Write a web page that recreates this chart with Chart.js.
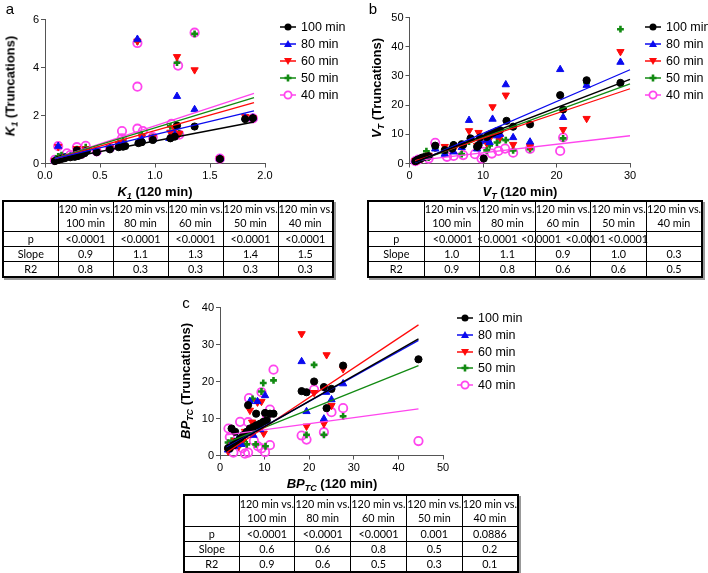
<!DOCTYPE html>
<html>
<head>
<meta charset="utf-8">
<script src="https://cdn.jsdelivr.net/npm/chart.js@4.4.1/dist/chart.umd.min.js"></script>
<style>
  body { margin: 0; background: #fff; }
  #page { position: relative; width: 708px; height: 573px; overflow: hidden; font-family: "Liberation Sans", Arial, sans-serif; color: #000; }
  canvas { position: absolute; left: 0; top: 0; }
  .lbl { position: absolute; font-size: 15px; transform: translate(-50%, -50%); }
  .xt, .yt { position: absolute; font-weight: bold; font-size: 13px; white-space: nowrap; }
  .xt { transform: translate(-50%, -50%); }
  .yt { transform: translate(-50%, -50%) rotate(-90deg); }
  sub { font-size: 9px; vertical-align: -3px; }
  .leg { position: absolute; font-size: 12.5px; white-space: nowrap; width: 80px; }
  .leg div { height: 17px; display: flex; align-items: center; }
  .leg svg { margin-right: 5px; }
  table { position: absolute; z-index: 0; border-collapse: collapse; table-layout: fixed; font-family: Lato, "Open Sans", sans-serif; font-size: 10.8px; border: 2px solid #000; box-shadow: 2px 2px 0 #999; }
  td { border: 1.5px solid #000; text-align: center; padding: 0; line-height: 14px; white-space: nowrap; overflow: visible; }
  td span.off { position: relative; z-index: -1; }
</style>
</head>
<body>
<div id="page">
  <canvas id="chartA" width="708" height="573"></canvas>
  <canvas id="chartB" width="708" height="573"></canvas>
  <canvas id="chartC" width="708" height="573"></canvas>

  <div class="lbl" style="left:10px;top:8px">a</div>
  <div class="lbl" style="left:373px;top:8px">b</div>
  <div class="lbl" style="left:186px;top:302px">c</div>

  <div class="yt" style="left:11px;top:86px"><i>K<sub>1</sub></i> (Truncations)</div>
  <div class="xt" style="left:155px;top:192px"><i>K<sub>1</sub></i> (120 min)</div>
  <div class="yt" style="left:377px;top:88px"><i>V<sub>T</sub></i> (Truncations)</div>
  <div class="xt" style="left:520px;top:192px"><i>V<sub>T</sub></i> (120 min)</div>
  <div class="yt" style="left:186px;top:381px"><i>BP<sub>TC</sub></i> (Truncations)</div>
  <div class="xt" style="left:332px;top:484px"><i>BP<sub>TC</sub></i> (120 min)</div>
</div>

<script>
// series shown in every panel
const seriesLabels = ['100 min', '80 min', '60 min', '50 min', '40 min'];

// panel a: K1, [120 min value, truncated value]
const k1Trunc100 = [[0.09,0.10],[0.12,0.15],[0.15,0.19],[0.18,0.22],[0.23,0.26],[0.27,0.28],[0.29,0.55],[0.30,0.31],[0.33,0.36],[0.36,0.43],[0.38,0.52],[0.47,0.47],[0.59,0.59],[0.67,0.68],[0.71,0.70],[0.73,0.73],[0.85,0.85],[0.88,0.89],[0.98,0.98],[1.14,1.05],[1.18,1.12],[1.20,1.58],[1.36,1.54],[1.59,0.19],[1.82,1.85],[1.89,1.89]];
const k1Trunc80 = [[0.09,0.12],[0.12,0.72],[0.15,0.20],[0.18,0.25],[0.23,0.28],[0.29,0.50],[0.33,0.40],[0.36,0.50],[0.47,0.50],[0.59,0.62],[0.67,0.75],[0.71,0.80],[0.84,5.18],[0.85,0.90],[0.88,1.00],[0.98,1.00],[1.13,1.05],[1.18,1.20],[1.20,2.80],[1.36,2.25],[1.59,0.20],[1.82,1.90],[1.89,1.90]];
const k1Trunc60 = [[0.09,0.13],[0.12,0.70],[0.15,0.22],[0.18,0.28],[0.23,0.30],[0.29,0.62],[0.33,0.42],[0.37,0.60],[0.47,0.52],[0.59,0.65],[0.67,0.80],[0.71,0.85],[0.84,5.10],[0.88,1.10],[0.98,1.10],[1.14,1.30],[1.18,1.45],[1.20,4.45],[1.22,1.25],[1.36,3.90],[1.59,0.20],[1.82,1.95],[1.89,1.90]];
const k1Trunc50 = [[0.09,0.14],[0.12,0.30],[0.15,0.35],[0.18,0.30],[0.23,0.32],[0.29,0.60],[0.33,0.45],[0.37,0.68],[0.47,0.50],[0.59,0.68],[0.67,0.85],[0.71,0.95],[0.84,5.10],[0.88,1.20],[0.98,1.10],[1.14,1.55],[1.20,4.20],[1.22,1.25],[1.36,5.40],[1.59,0.20],[1.82,1.90],[1.89,1.88]];
const k1Trunc40 = [[0.09,0.15],[0.12,0.72],[0.15,0.25],[0.20,0.42],[0.23,0.35],[0.29,0.68],[0.33,0.40],[0.37,0.74],[0.47,0.50],[0.59,0.65],[0.70,1.35],[0.70,1.05],[0.84,5.02],[0.84,3.20],[0.84,1.45],[0.89,1.35],[0.98,1.10],[1.15,1.65],[1.21,4.08],[1.22,1.20],[1.36,5.45],[1.59,0.20],[1.89,1.88]];
const k1FitX = [0.09, 1.90];
const k1FitStart = [0.14, 0.20, 0.19, 0.21, 0.20];
const k1FitEnd = [1.73, 2.19, 2.54, 2.74, 2.92];

// panel b: VT
const vtTrunc100 = [[0.8,0.8],[1.0,1.1],[1.2,1.4],[1.5,1.6],[1.7,2.0],[2.1,2.3],[2.6,2.5],[3.5,6.1],[4.8,4.6],[5.8,5.1],[6.0,6.3],[7.1,6.6],[7.3,6.4],[8.3,8.6],[9.2,5.7],[9.4,6.3],[9.6,8.9],[10.1,1.7],[10.5,9.1],[10.7,9.7],[11.0,10.1],[11.4,10.5],[11.9,11.1],[12.3,11.4],[13.2,14.6],[14.1,12.6],[16.4,13.4],[20.5,23.4],[20.9,18.5],[24.1,28.5],[28.7,27.6]];
const vtTrunc80 = [[0.8,0.9],[1.2,1.3],[1.7,1.8],[2.6,2.4],[3.5,5.0],[4.8,3.2],[6.0,4.0],[7.1,5.5],[8.1,14.8],[9.2,5.0],[9.6,7.5],[10.5,8.0],[10.9,7.2],[11.3,15.2],[11.9,9.5],[12.3,10.0],[13.1,27.0],[14.1,8.9],[16.4,7.4],[20.5,32.2],[20.9,15.8],[24.1,26.8],[28.7,34.7]];
const vtTrunc60 = [[0.8,0.9],[1.2,1.2],[1.7,1.8],[2.6,2.8],[3.5,5.5],[4.8,5.8],[6.0,4.8],[7.1,6.0],[8.1,11.2],[9.2,6.2],[9.4,10.6],[10.5,7.0],[10.9,8.5],[11.3,19.4],[11.9,9.6],[12.3,9.0],[13.1,23.4],[14.1,6.5],[16.4,5.8],[20.9,11.6],[24.1,15.4],[28.7,38.3]];
const vtTrunc50 = [[0.8,0.8],[1.2,1.0],[2.3,4.2],[2.6,2.0],[3.5,5.2],[4.8,3.5],[6.0,6.5],[7.1,3.2],[8.1,7.5],[9.2,6.0],[10.5,4.5],[10.9,6.2],[11.9,7.2],[12.3,8.3],[13.1,8.0],[14.1,4.5],[16.4,4.9],[20.9,8.6],[24.1,27.5],[28.7,46.0]];
const vtTrunc40 = [[0.8,0.8],[1.2,1.3],[2.6,1.7],[3.5,7.1],[5.1,2.3],[6.0,2.6],[7.3,2.9],[8.9,3.2],[9.8,1.7],[10.0,4.0],[11.2,3.4],[12.1,4.3],[13.0,5.1],[14.1,3.7],[16.4,5.0],[20.5,4.3],[20.9,8.9]];
const vtFitX = [0.8, 30];
const vtFitStart = [0.5, 0.3, 0.9, 0.5, 1.0];
const vtFitEnd = [28.8, 32.1, 25.6, 27.3, 9.5];

// panel c: BPTC
const bpTrunc100 = [[1.8,2.0],[2.2,1.9],[2.6,7.3],[3.0,2.8],[3.4,6.4],[3.7,3.7],[4.5,4.6],[5.2,5.5],[6.0,6.4],[6.3,13.6],[6.7,7.3],[7.5,7.7],[8.1,11.3],[8.2,8.2],[9.0,8.6],[9.7,9.1],[10.1,11.5],[10.5,9.5],[11.2,11.3],[12.0,11.3],[18.3,17.4],[19.4,17.1],[21.1,20.0],[23.3,18.5],[23.9,12.8],[25.0,18.0],[27.6,24.3],[44.5,26.0]];
const bpTrunc80 = [[1.8,1.5],[2.5,3.0],[3.2,2.5],[4.0,4.5],[4.8,3.0],[5.5,5.5],[6.3,6.0],[6.7,14.6],[7.5,5.5],[8.4,14.6],[9.0,7.0],[10.1,16.2],[18.3,25.4],[19.4,11.9],[23.3,9.9],[23.8,17.1],[25.0,15.1],[27.6,19.4]];
const bpTrunc60 = [[1.8,1.2],[2.6,3.0],[3.4,4.0],[4.2,2.5],[5.0,4.0],[5.6,6.5],[6.7,12.2],[7.2,9.0],[8.4,14.4],[9.3,14.6],[9.8,6.0],[18.3,32.9],[19.4,7.9],[21.1,17.0],[23.3,8.6],[23.9,27.2],[25.0,13.5],[27.6,23.4]];
const bpTrunc50 = [[1.8,3.5],[2.6,4.0],[3.4,3.5],[4.5,3.0],[5.3,4.0],[6.0,3.0],[7.0,7.0],[7.3,15.3],[8.0,3.0],[9.3,17.3],[9.7,19.6],[10.2,2.5],[12.0,20.3],[19.4,5.6],[21.1,24.5],[23.3,5.6],[27.6,10.6]];
const bpTrunc40 = [[1.9,7.3],[2.2,5.0],[3.0,0.8],[3.4,3.0],[4.5,9.1],[5.0,2.0],[5.6,0.5],[6.3,0.8],[6.3,9.0],[6.5,15.5],[7.6,4.0],[8.5,2.5],[9.3,17.1],[9.3,1.9],[10.1,0.9],[10.5,10.9],[11.2,12.4],[11.2,2.8],[12.0,23.2],[18.3,5.4],[19.4,4.3],[21.1,17.8],[23.3,6.3],[25.0,11.7],[27.6,12.8],[44.5,3.9]];
const bpFitX = [1.5, 44.5];
const bpFitStart = [2.0, 2.2, 0.8, 3.5, 5.6];
const bpFitEnd = [31.5, 31.1, 35.3, 24.3, 12.6];

// tables
const rowNames = ['p', 'Slope', 'R2'];
const k1P = ['<0.0001', '<0.0001', '<0.0001', '<0.0001', '<0.0001'];
const k1Slope = ['0.9', '1.1', '1.3', '1.4', '1.5'];
const k1R2 = ['0.8', '0.3', '0.3', '0.3', '0.3'];
const vtP = ['<0.0001', '<0.0001', '<0.0001', '<0.0001', '<0.0001'];
const vtSlope = ['1.0', '1.1', '0.9', '1.0', '0.3'];
const vtR2 = ['0.9', '0.8', '0.6', '0.6', '0.5'];
const bpP = ['<0.0001', '<0.0001', '<0.0001', '0.001', '0.0886'];
const bpSlope = ['0.6', '0.6', '0.8', '0.5', '0.2'];
const bpR2 = ['0.9', '0.6', '0.5', '0.3', '0.1'];

// styling
const colors = ['#000000', '#0a0aef', '#ff0a0a', '#128a12', '#ff45ee'];
const shapes = ['circle', 'triangle', 'triangle', 'cross', 'circle'];
const rotations = [0, 0, 180, 0, 0];
const radii = [3.6, 4.2, 4.2, 3.4, 4.2];
const filled = [true, true, true, true, false];
const widths = [1, 1, 1, 2.6, 1.8];
const tickFont = { family: '"Liberation Sans", Arial, sans-serif', size: 11 };

function buildDatasets(series, fitX, fitStart, fitEnd) {
  const fits = series.map((s, i) => ({
    data: [{ x: fitX[0], y: fitStart[i] }, { x: fitX[1], y: fitEnd[i] }],
    showLine: true, pointRadius: 0, borderColor: colors[i], borderWidth: i == 0 ? 1.5 : 1.3, clip: false
  }));
  const pts = series.map((s, i) => ({
    label: seriesLabels[i],
    data: s.map(p => ({ x: p[0], y: p[1] })),
    pointStyle: shapes[i], pointRotation: rotations[i], pointRadius: radii[i],
    backgroundColor: filled[i] ? colors[i] : 'rgba(0,0,0,0)',
    borderColor: colors[i], borderWidth: widths[i], clip: 8
  }));
  return fits.concat(pts);
}

function axis(max, step, dec, fit) {
  return {
    type: 'linear', min: 0, max: max,
    ticks: { stepSize: step, color: '#000', font: tickFont, padding: 2, callback: v => v.toFixed(dec) },
    grid: { drawOnChartArea: false, tickLength: 4, color: '#555' },
    border: { color: '#555', width: 1 },
    afterFit: fit
  };
}

function makePanel(id, area, xMax, xStep, xDec, yMax, yStep, datasets) {
  new Chart(document.getElementById(id), {
    type: 'scatter',
    data: { datasets: datasets },
    options: {
      responsive: false, animation: false, devicePixelRatio: 1,
      layout: { padding: { left: area.left - 30, right: 708 - area.right, top: area.top, bottom: 573 - area.bottom - 16 } },
      plugins: { legend: { display: false }, tooltip: { enabled: false } },
      scales: {
        x: axis(xMax, xStep, xDec, s => { s.height = 16; }),
        y: axis(yMax, yStep, 0, s => { s.width = 30; })
      }
    }
  });
}

makePanel('chartA', { left: 45, right: 265, top: 19.5, bottom: 163.5 }, 2, 0.5, 1, 6, 2,
  buildDatasets([k1Trunc100, k1Trunc80, k1Trunc60, k1Trunc50, k1Trunc40], k1FitX, k1FitStart, k1FitEnd));
makePanel('chartB', { left: 409.5, right: 630, top: 17.5, bottom: 163.5 }, 30, 10, 0, 50, 10,
  buildDatasets([vtTrunc100, vtTrunc80, vtTrunc60, vtTrunc50, vtTrunc40], vtFitX, vtFitStart, vtFitEnd));
makePanel('chartC', { left: 220, right: 443, top: 307.5, bottom: 455.5 }, 50, 10, 0, 40, 10,
  buildDatasets([bpTrunc100, bpTrunc80, bpTrunc60, bpTrunc50, bpTrunc40], bpFitX, bpFitStart, bpFitEnd));

// legends (line + marker, like the original)
function icon(i) {
  const c = colors[i];
  let m;
  if (i == 0) m = `<circle cx="8" cy="5" r="3.5" fill="${c}"/>`;
  else if (i == 1) m = `<polygon points="8,1 12,8 4,8" fill="${c}"/>`;
  else if (i == 2) m = `<polygon points="4,2 12,2 8,9" fill="${c}"/>`;
  else if (i == 3) m = `<path d="M8 1.5v7M4.5 5h7" stroke="${c}" stroke-width="2.6"/>`;
  else m = `<circle cx="8" cy="5" r="3.6" fill="#fff" stroke="${c}" stroke-width="1.8"/>`;
  return `<svg width="16" height="10"><line x1="0" y1="5" x2="16" y2="5" stroke="${c}" stroke-width="1.5"/>${m}</svg>`;
}
function legend(left, top, rowH) {
  const d = document.createElement('div');
  d.className = 'leg';
  d.style.left = left + 'px';
  d.style.top = top + 'px';
  d.innerHTML = seriesLabels.map((l, i) => `<div style="height:${rowH}px">${icon(i)}${l}</div>`).join('');
  document.getElementById('page').appendChild(d);
}
legend(280, 18.5, 17);
legend(645, 18.5, 17);
legend(457, 310, 16.7);

// tables
function table(left, top, colW, headH, rowH, rows, pShift) {
  const t = document.createElement('table');
  t.style.left = left + 'px';
  t.style.top = top + 'px';
  t.style.width = colW.reduce((a, b) => a + b, 0) + 'px';
  let h = '<colgroup>' + colW.map(w => `<col style="width:${w}px">`).join('') + '</colgroup>';
  h += `<tr style="height:${headH}px"><td></td>` + seriesLabels.map(l => `<td>120 min vs.<br>${l}</td>`).join('') + '</tr>';
  rows.forEach((r, k) => {
    h += `<tr style="height:${rowH}px"><td>${rowNames[k]}</td>` + r.map((v, j) => {
      const txt = v.replace('<', '&lt;');
      if (k == 0 && pShift) return `<td><span class="off" style="left:${pShift[j]}px">${txt}</span></td>`;
      return `<td>${txt}</td>`;
    }).join('') + '</tr>';
  });
  t.innerHTML = h;
  document.getElementById('page').appendChild(t);
}
table(2, 200, [55, 55, 55, 55, 55, 55], 30, 15, [k1P, k1Slope, k1R2]);
table(367, 200, [56, 55.6, 55.6, 55.6, 55.6, 55.6], 30, 15, [vtP, vtSlope, vtR2], [1, -10, -22, -33, -46]);
table(183, 494, [55, 55.8, 55.8, 55.8, 55.8, 55.8], 31, 14, [bpP, bpSlope, bpR2]);
</script>
</body>
</html>
